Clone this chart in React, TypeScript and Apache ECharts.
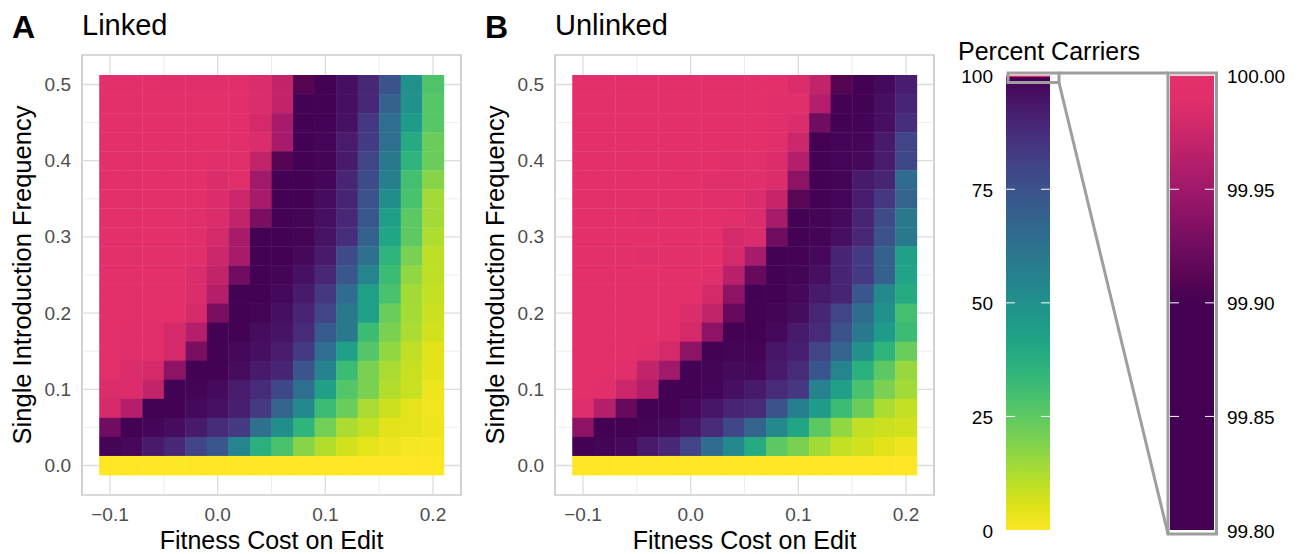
import React, { useEffect, useRef } from "react";
import * as echarts from "echarts";

// ---------- data ----------
const fitnessCost = [-0.1, -0.08, -0.06, -0.04, -0.02, 0, 0.02, 0.04, 0.06, 0.08, 0.1, 0.12, 0.14, 0.16, 0.18, 0.2];
// rows from top (0.5) to bottom (0)
const introFreq = [0.5, 0.475, 0.45, 0.425, 0.4, 0.375, 0.35, 0.325, 0.3, 0.275, 0.25, 0.225, 0.2, 0.175, 0.15, 0.125, 0.1, 0.075, 0.05, 0.025, 0];

const linked = [
  [100, 100, 100, 99.99, 99.99, 99.99, 99.99, 99.985, 99.97, 99.91, 99.85, 96, 89, 74.5, 50, 28],
  [100, 100, 100, 100, 100, 100, 99.99, 99.985, 99.97, 99.85, 99.85, 96, 89, 69, 50, 26.5],
  [100, 100, 100, 100, 100, 100, 99.99, 99.98, 99.955, 99.85, 99.5, 95.5, 84, 64, 45, 26.5],
  [100, 100, 100, 100, 100, 100, 99.99, 99.985, 99.955, 99.85, 98.8, 92.5, 83, 64, 39, 23],
  [100, 100, 100, 100, 100, 99.99, 99.99, 99.97, 99.91, 99.85, 99, 93, 80, 60, 35, 23],
  [100, 100, 100, 100, 100, 99.985, 99.99, 99.95, 99.85, 99.85, 98.8, 90, 77, 57, 30, 18],
  [100, 100, 100, 100, 100, 99.985, 99.975, 99.955, 99.85, 99.85, 97, 90, 75, 51, 29, 14],
  [100, 100, 100, 100, 99.99, 99.985, 99.97, 99.93, 99.85, 99, 96, 89, 73, 44, 25.5, 14],
  [100, 100, 100, 100, 99.99, 99.98, 99.955, 99.85, 99.85, 99, 95, 87, 69, 41, 25, 12],
  [100, 100, 100, 100, 99.99, 99.975, 99.955, 99.85, 99.85, 98, 93, 78, 63.5, 35, 20, 10],
  [100, 100, 100, 100, 99.985, 99.97, 99.925, 99.85, 99, 95.5, 89, 73, 55, 32, 16.5, 10],
  [100, 100, 100, 100, 99.985, 99.962, 99.85, 99.7, 98, 93, 84, 65, 43, 29, 14, 9],
  [100, 100, 100, 100, 99.98, 99.93, 99.85, 99, 96, 90, 80, 60, 43, 23, 13.5, 8],
  [100, 99.99, 99.99, 99.98, 99.962, 99.85, 99.7, 97, 95, 88, 72, 60, 32, 20, 12.5, 7],
  [100, 99.99, 99.99, 99.98, 99.93, 99.85, 98, 96, 92.5, 83, 64, 43, 27, 16.5, 9.5, 4.5],
  [100, 99.985, 99.98, 99.94, 99.85, 99.85, 97, 93, 90, 74, 56, 32, 20, 13, 8.5, 4.5],
  [99.985, 99.985, 99.97, 99.85, 99, 97.5, 92.5, 88, 79, 64, 43, 27, 20, 11.5, 8.5, 2.5],
  [99.98, 99.962, 99.85, 99.85, 98, 95.5, 91.5, 83, 68, 53, 32, 23, 13, 8, 4, 2],
  [99.925, 99.85, 98.8, 97, 93, 87.5, 83, 63.5, 51, 35, 21.5, 12.5, 9, 4.5, 4, 2.5],
  [99, 98, 93, 89, 80, 73, 55, 37, 29, 18, 11.5, 7, 4, 2.5, 1, 1],
  [0, 0, 0, 0, 0, 0, 0, 0, 0, 0, 0, 0, 0, 0, 0, 0],
];

const unlinked = [
  [100, 100, 100, 100, 100, 100, 100, 100, 100, 100, 99.985, 99.97, 99.91, 99.85, 97.5, 92],
  [100, 100, 100, 100, 100, 100, 100, 100, 100, 99.99, 99.99, 99.962, 99.85, 99.85, 96, 90],
  [100, 100, 100, 100, 100, 100, 100, 100, 100, 99.99, 99.985, 99.925, 99.85, 99.5, 96, 87],
  [100, 100, 100, 100, 100, 100, 100, 100, 100, 99.99, 99.975, 99.88, 99.2, 98.8, 93, 80],
  [100, 100, 100, 100, 100, 100, 100, 99.99, 100, 99.985, 99.962, 99.85, 98.8, 98, 92.5, 79],
  [100, 100, 100, 100, 100, 100, 99.99, 99.99, 99.99, 99.985, 99.94, 99.85, 99, 93, 90, 65],
  [100, 100, 100, 100, 100, 100, 99.99, 99.99, 99.985, 99.972, 99.912, 99.85, 98.8, 92.5, 84, 68],
  [100, 100, 100, 99.99, 100, 100, 100, 99.99, 99.985, 99.955, 99.85, 99, 97.5, 90, 78, 60],
  [100, 100, 100, 100, 100, 100, 100, 99.98, 99.985, 99.925, 99.85, 99, 96, 89, 75, 60],
  [100, 100, 100, 99.99, 100, 100, 100, 99.98, 99.955, 99.85, 99.5, 98, 90, 83, 69, 43],
  [100, 100, 100, 100, 100, 100, 99.99, 99.965, 99.92, 99.85, 99, 96, 90, 83, 69, 42],
  [100, 100, 100, 100, 100, 100, 99.98, 99.94, 99.85, 99.85, 98, 93, 90, 73, 53, 39],
  [100, 100, 100, 100, 100, 99.985, 99.97, 99.92, 99.85, 99, 97, 89.5, 80, 65, 50, 30],
  [100, 100, 100, 100, 99.99, 99.98, 99.94, 99.85, 99.85, 98, 93, 88, 75, 60, 45, 32],
  [100, 100, 100, 99.99, 99.98, 99.94, 99.85, 99, 99, 94.5, 91.5, 80, 68, 50, 35, 23],
  [100, 100, 99.99, 99.97, 99.95, 99.85, 99, 97.5, 98, 93, 88, 74, 55, 37, 25.5, 15.5],
  [100, 99.99, 99.975, 99.962, 99.85, 99.85, 98.8, 96, 93, 88, 84, 56, 43, 29, 20, 14],
  [99.988, 99.962, 99.92, 99.85, 99.85, 98, 94.5, 90, 88, 75, 57, 45, 32, 23, 12.5, 9],
  [99.94, 99.85, 99.85, 99, 97.5, 94, 88, 79, 68, 53, 41, 25.5, 16.5, 9.5, 8, 7],
  [99.85, 99, 98, 93, 89, 80, 65, 53, 39, 25.5, 20, 14, 9, 7, 4.5, 2.5],
  [0, 0, 0, 0, 0, 0, 0, 0, 0, 0, 0, 0, 0, 0, 0, 0],
];

const xTicks = [-0.1, 0, 0.1, 0.2];
const xMinor = [-0.05, 0.05, 0.15];
const yTicks = [0, 0.1, 0.2, 0.3, 0.4, 0.5];
const yMinor = [0.05, 0.15, 0.25, 0.35, 0.45];
const barTicks = [0, 25, 50, 75, 100];
const zoomTicks = [99.8, 99.85, 99.9, 99.95, 100];

// ---------- colour scale ----------
const VIRIDIS = ["#440154", "#471365", "#482475", "#463480", "#414487", "#3b528b", "#355f8d", "#2f6c8e", "#2a788e", "#25848e", "#21918c", "#1e9c89", "#22a884", "#2fb47c", "#44bf70", "#5ec962", "#7ad151", "#9bd93c", "#bddf26", "#dfe318", "#fde725"];
const PINK_STOPS: [number, string][] = [
  [99.9, "#440154"], [99.91, "#560553"], [99.925, "#700D60"], [99.94, "#8E1365"], [99.95, "#A0196B"],
  [99.962, "#B41E6A"], [99.97, "#C2246A"], [99.98, "#D42A6A"], [99.99, "#E12F6B"], [100, "#E3306B"],
];
const hexRgb = (h: string) => [parseInt(h.slice(1, 3), 16), parseInt(h.slice(3, 5), 16), parseInt(h.slice(5, 7), 16)];
const mix = (a: string, b: string, t: number) => {
  const A = hexRgb(a), B = hexRgb(b);
  const c = A.map((v, i) => Math.round(v + (B[i] - v) * t));
  return `rgb(${c[0]},${c[1]},${c[2]})`;
};
const viridisAt = (t: number) => {
  const n = VIRIDIS.length - 1;
  const f = Math.max(0, Math.min(1, t)) * n;
  const i = Math.min(n - 1, Math.floor(f));
  return mix(VIRIDIS[i], VIRIDIS[i + 1], f - i);
};
const colorFor = (v: number) => {
  if (v >= 99.9) {
    for (let k = 0; k < PINK_STOPS.length - 1; k++) {
      const [a, ca] = PINK_STOPS[k], [b, cb] = PINK_STOPS[k + 1];
      if (v <= b) return mix(ca, cb, (v - a) / (b - a));
    }
    return PINK_STOPS[PINK_STOPS.length - 1][1];
  }
  return viridisAt(1 - v / 100);
};

// ---------- layout ----------
const FONT = "'Liberation Sans', Arial, Helvetica, sans-serif";
const XMIN = -0.126, XMAX = 0.226, YMIN = -0.03875, YMAX = 0.53875;
const XSTEP = 0.02, YSTEP = 0.025;
const GRID_TOP = 55, GRID_W = 379, GRID_H = 440;
const PANELS = [
  { left: 82, letter: "A", title: "Linked", values: linked },
  { left: 555, letter: "B", title: "Unlinked", values: unlinked },
];
const BAR_X = 1006, ZBAR_X = 1170, BAR_W = 44, BAR_TOP = 75.7, BAR_BOTTOM = 530;
const FRAME = "#9E9E9E";

const fmt = (v: number) => {
  const s = Math.abs(v) < 1e-9 ? "0.0" : v.toFixed(1);
  return s.replace("-", "\u2212");
};

function buildOption() {
  const grids = PANELS.map((p) => ({
    left: p.left, top: GRID_TOP, width: GRID_W, height: GRID_H,
    show: true, borderColor: "#B3B3B3", borderWidth: 1.2, backgroundColor: "transparent",
  }));
  const tickStyle = { color: "#B3B3B3", width: 1.2 };
  const xAxes = PANELS.map((_, i) => ({
    type: "value", gridIndex: i, min: XMIN, max: XMAX,
    axisLine: { show: false }, splitLine: { show: false },
    axisTick: { show: true, customValues: xTicks, length: 4, lineStyle: tickStyle },
    axisLabel: { customValues: xTicks, formatter: fmt, color: "#4D4D4D", fontSize: 19, fontFamily: FONT, margin: 10 },
  }));
  const yAxes = PANELS.map((_, i) => ({
    type: "value", gridIndex: i, min: YMIN, max: YMAX,
    axisLine: { show: false }, splitLine: { show: false },
    axisTick: { show: true, customValues: yTicks, length: 4, lineStyle: tickStyle },
    axisLabel: { customValues: yTicks, formatter: fmt, color: "#4D4D4D", fontSize: 19, fontFamily: FONT, margin: 11 },
  }));

  const gridLineData = [
    ...xTicks.map((v) => [v, 0, 1]), ...xMinor.map((v) => [v, 0, 0]),
    ...yTicks.map((v) => [v, 1, 1]), ...yMinor.map((v) => [v, 1, 0]),
  ];

  const series: any[] = [];
  PANELS.forEach((p, i) => {
    series.push({
      type: "custom", xAxisIndex: i, yAxisIndex: i, silent: true, z: 1, clip: false,
      data: gridLineData,
      renderItem: (params: any, api: any) => {
        const cs = params.coordSys;
        const v = api.value(0), horiz = api.value(1) === 1, major = api.value(2) === 1;
        const style = { stroke: major ? "#DCDCDC" : "#E8E8E8", lineWidth: major ? 1.3 : 0.8 };
        if (!horiz) {
          const px = api.coord([v, 0])[0];
          return { type: "line", shape: { x1: px, y1: cs.y, x2: px, y2: cs.y + cs.height }, style };
        }
        const py = api.coord([0, v])[1];
        return { type: "line", shape: { x1: cs.x, y1: py, x2: cs.x + cs.width, y2: py }, style };
      },
    });
    const data: number[][] = [];
    introFreq.forEach((y, r) => fitnessCost.forEach((x, c) => data.push([x, y, p.values[r][c]])));
    series.push({
      type: "custom", xAxisIndex: i, yAxisIndex: i, silent: true, z: 2, clip: false,
      data,
      renderItem: (_params: any, api: any) => {
        const x = api.value(0), y = api.value(1), v = api.value(2);
        const tl = api.coord([x - XSTEP / 2, y + YSTEP / 2]);
        const br = api.coord([x + XSTEP / 2, y - YSTEP / 2]);
        return {
          type: "rect",
          shape: { x: tl[0], y: tl[1], width: br[0] - tl[0] + 0.4, height: br[1] - tl[1] + 0.4 },
          style: { fill: colorFor(v) },
        };
      },
    });
  });

  const txt = (text: string, x: number, y: number, o: any = {}) => ({
    type: "text", x, y, rotation: o.rot || 0, silent: true, z: 10,
    style: {
      text, fill: o.color || "#000", fontSize: o.size || 19, fontFamily: FONT,
      fontWeight: o.weight || "normal", align: o.align || "left", verticalAlign: "middle",
    },
  });

  const els: any[] = [];
  PANELS.forEach((p) => {
    const dx = p.left - 82;
    els.push(txt(p.letter, 12 + dx, 26.5, { size: 32, weight: "bold" }));
    els.push(txt(p.title, 82 + dx, 25, { size: 29 }));
    els.push(txt("Single Introduction Frequency", 22 + dx, GRID_TOP + GRID_H / 2, { size: 25.5, align: "center", rot: Math.PI / 2 }));
    els.push(txt("Fitness Cost on Edit", p.left + GRID_W / 2, 539.5, { size: 25, align: "center" }));
  });

  // colour bars
  const barH = BAR_BOTTOM - BAR_TOP;
  const mainStops = [{ offset: 0, color: "#E3306B" }, { offset: 0.003, color: VIRIDIS[0] }];
  VIRIDIS.forEach((c, k) => { if (k > 0) mainStops.push({ offset: k / (VIRIDIS.length - 1), color: c }); });
  const zoomStops = PINK_STOPS.slice().reverse().map(([v, c]) => ({ offset: (100 - v) / 0.2, color: c }));
  zoomStops.push({ offset: 1, color: VIRIDIS[0] });

  els.push({ type: "rect", z: 5, silent: true, shape: { x: BAR_X, y: BAR_TOP, width: BAR_W, height: barH },
    style: { fill: new echarts.graphic.LinearGradient(0, 0, 0, 1, mainStops) } });
  els.push({ type: "rect", z: 5, silent: true, shape: { x: BAR_X, y: BAR_TOP, width: BAR_W, height: 1.4 }, style: { fill: "#E3306B" } });
  els.push({ type: "rect", z: 5, silent: true, shape: { x: ZBAR_X, y: BAR_TOP, width: BAR_W, height: barH },
    style: { fill: new echarts.graphic.LinearGradient(0, 0, 0, 1, zoomStops) } });

  const mainY = (v: number) => BAR_BOTTOM - (v / 100) * barH;
  const zoomY = (v: number) => BAR_BOTTOM - ((v - 99.8) / 0.2) * barH;
  barTicks.forEach((v) => {
    els.push(txt(String(v), 993, mainY(v) + 1, { size: 19, align: "right" }));
    if (v > 0 && v < 100) {
      els.push({ type: "line", z: 6, silent: true, shape: { x1: BAR_X, y1: mainY(v), x2: BAR_X + 9, y2: mainY(v) }, style: { stroke: "#fff", lineWidth: 1 } });
      els.push({ type: "line", z: 6, silent: true, shape: { x1: BAR_X + BAR_W - 9, y1: mainY(v), x2: BAR_X + BAR_W, y2: mainY(v) }, style: { stroke: "#fff", lineWidth: 1 } });
    }
  });
  zoomTicks.forEach((v) => {
    els.push(txt(v.toFixed(2), 1227, zoomY(v) + 1, { size: 19, align: "left" }));
    if (v > 99.8 && v < 100) {
      els.push({ type: "line", z: 6, silent: true, shape: { x1: ZBAR_X, y1: zoomY(v), x2: ZBAR_X + 9, y2: zoomY(v) }, style: { stroke: "#fff", lineWidth: 1 } });
      els.push({ type: "line", z: 6, silent: true, shape: { x1: ZBAR_X + BAR_W - 9, y1: zoomY(v), x2: ZBAR_X + BAR_W, y2: zoomY(v) }, style: { stroke: "#fff", lineWidth: 1 } });
    }
  });
  els.push(txt("Percent Carriers", 958, 51, { size: 25 }));

  // zoom boxes and connectors
  const boxStyle = { stroke: FRAME, lineWidth: 3, fill: "none" };
  els.push({ type: "rect", z: 7, silent: true, shape: { x: 1008, y: 73, width: 51, height: 9.5 }, style: boxStyle });
  els.push({ type: "rect", z: 7, silent: true, shape: { x: 1168, y: 73, width: 48.5, height: 461 }, style: boxStyle });
  els.push({ type: "line", z: 7, silent: true, shape: { x1: 1059, y1: 73, x2: 1168, y2: 73 }, style: { stroke: FRAME, lineWidth: 3 } });
  els.push({ type: "line", z: 7, silent: true, shape: { x1: 1059, y1: 82.5, x2: 1168, y2: 534 }, style: { stroke: FRAME, lineWidth: 3 } });

  return {
    animation: false,
    backgroundColor: "#ffffff",
    textStyle: { fontFamily: FONT },
    grid: grids,
    xAxis: xAxes,
    yAxis: yAxes,
    series,
    graphic: { elements: els },
  };
}

export default function App() {
  const ref = useRef<HTMLDivElement>(null);
  useEffect(() => {
    if (!ref.current) return;
    const chart = echarts.init(ref.current, undefined, { renderer: "svg" });
    chart.setOption(buildOption() as any);
    return () => chart.dispose();
  }, []);
  return <div ref={ref} style={{ position: "absolute", left: 0, top: 0, width: 1300, height: 554, background: "#fff" }} />;
}
